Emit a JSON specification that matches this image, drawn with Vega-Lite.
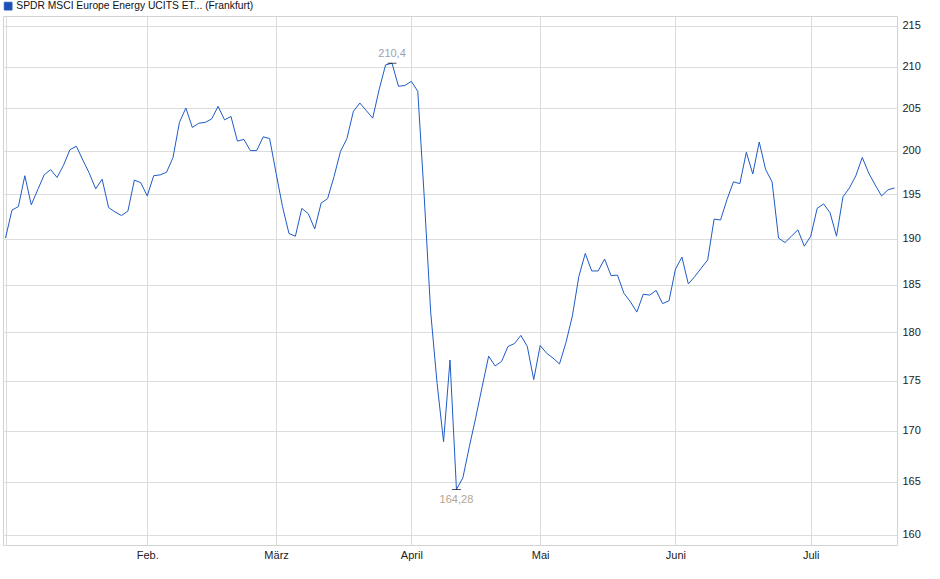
{
  "$schema": "https://vega.github.io/schema/vega-lite/v6.json",
  "width": 894,
  "height": 529,
  "autosize": {"type": "none"},
  "padding": {"left": 3, "top": 16, "right": 43, "bottom": 34},
  "background": "white",
  "config": {
    "font": "Liberation Sans",
    "view": {"stroke": "#d2d2d2", "strokeWidth": 1},
    "axis": {"gridColor": "#dcdcdc", "gridWidth": 1, "ticks": false, "domain": false, "labelFontSize": 11, "labelColor": "#222222", "labelFont": "Liberation Sans"}
  },
  "datasets": {
    "prices": [
      {"d":"2025-01-02","v":190.1},{"d":"2025-01-03","v":193.2},{"d":"2025-01-06","v":193.6},{"d":"2025-01-07","v":197.1},{"d":"2025-01-08","v":193.8},
      {"d":"2025-01-09","v":195.5},{"d":"2025-01-10","v":197.2},{"d":"2025-01-13","v":197.8},{"d":"2025-01-14","v":196.9},{"d":"2025-01-15","v":198.3},
      {"d":"2025-01-16","v":200.1},{"d":"2025-01-17","v":200.5},{"d":"2025-01-20","v":198.9},{"d":"2025-01-21","v":197.4},{"d":"2025-01-22","v":195.6},
      {"d":"2025-01-23","v":196.7},{"d":"2025-01-24","v":193.5},{"d":"2025-01-27","v":193.0},{"d":"2025-01-28","v":192.6},{"d":"2025-01-29","v":193.1},
      {"d":"2025-01-30","v":196.6},{"d":"2025-01-31","v":196.3},{"d":"2025-02-03","v":194.8},{"d":"2025-02-04","v":197.1},{"d":"2025-02-05","v":197.2},
      {"d":"2025-02-06","v":197.5},{"d":"2025-02-07","v":199.2},{"d":"2025-02-10","v":203.3},{"d":"2025-02-11","v":205.0},{"d":"2025-02-12","v":202.7},
      {"d":"2025-02-13","v":203.2},{"d":"2025-02-14","v":203.3},{"d":"2025-02-17","v":203.7},{"d":"2025-02-18","v":205.2},{"d":"2025-02-19","v":203.6},
      {"d":"2025-02-20","v":204.0},{"d":"2025-02-21","v":201.1},{"d":"2025-02-24","v":201.3},{"d":"2025-02-25","v":200.0},{"d":"2025-02-26","v":200.0},
      {"d":"2025-02-27","v":201.6},{"d":"2025-02-28","v":201.4},{"d":"2025-03-03","v":197.4},{"d":"2025-03-04","v":193.6},{"d":"2025-03-05","v":190.6},
      {"d":"2025-03-06","v":190.3},{"d":"2025-03-07","v":193.4},{"d":"2025-03-10","v":192.8},{"d":"2025-03-11","v":191.1},{"d":"2025-03-12","v":194.0},
      {"d":"2025-03-13","v":194.5},{"d":"2025-03-14","v":197.0},{"d":"2025-03-17","v":199.9},{"d":"2025-03-18","v":201.4},{"d":"2025-03-19","v":204.6},
      {"d":"2025-03-20","v":205.6},{"d":"2025-03-21","v":204.7},{"d":"2025-03-24","v":203.8},{"d":"2025-03-25","v":207.2},{"d":"2025-03-26","v":210.2},
      {"d":"2025-03-27","v":210.4},{"d":"2025-03-28","v":207.6},{"d":"2025-03-31","v":207.7},{"d":"2025-04-01","v":208.2},{"d":"2025-04-02","v":207.0},
      {"d":"2025-04-03","v":194.7},{"d":"2025-04-04","v":182.1},{"d":"2025-04-07","v":174.7},{"d":"2025-04-08","v":168.9},{"d":"2025-04-09","v":177.1},
      {"d":"2025-04-10","v":164.28},{"d":"2025-04-11","v":165.4},{"d":"2025-04-14","v":168.4},{"d":"2025-04-15","v":171.3},{"d":"2025-04-16","v":174.4},
      {"d":"2025-04-17","v":177.5},{"d":"2025-04-22","v":176.5},{"d":"2025-04-23","v":176.95},{"d":"2025-04-24","v":178.5},{"d":"2025-04-25","v":178.8},
      {"d":"2025-04-28","v":179.65},{"d":"2025-04-29","v":178.5},{"d":"2025-04-30","v":175.1},{"d":"2025-05-02","v":178.6},{"d":"2025-05-05","v":177.8},
      {"d":"2025-05-06","v":177.3},{"d":"2025-05-07","v":176.7},{"d":"2025-05-08","v":178.9},{"d":"2025-05-09","v":181.7},{"d":"2025-05-12","v":185.9},
      {"d":"2025-05-13","v":188.4},{"d":"2025-05-14","v":186.5},{"d":"2025-05-15","v":186.5},{"d":"2025-05-16","v":187.8},{"d":"2025-05-19","v":186.0},
      {"d":"2025-05-20","v":186.05},{"d":"2025-05-21","v":184.1},{"d":"2025-05-22","v":183.2},{"d":"2025-05-23","v":182.1},{"d":"2025-05-26","v":184.0},
      {"d":"2025-05-27","v":183.9},{"d":"2025-05-28","v":184.4},{"d":"2025-05-29","v":183.0},{"d":"2025-05-30","v":183.3},{"d":"2025-06-02","v":186.7},
      {"d":"2025-06-03","v":188.0},{"d":"2025-06-04","v":185.1},{"d":"2025-06-05","v":185.9},{"d":"2025-06-06","v":186.8},{"d":"2025-06-09","v":187.7},
      {"d":"2025-06-10","v":192.2},{"d":"2025-06-11","v":192.1},{"d":"2025-06-12","v":194.4},{"d":"2025-06-13","v":196.4},{"d":"2025-06-16","v":196.2},
      {"d":"2025-06-17","v":199.8},{"d":"2025-06-18","v":197.3},{"d":"2025-06-19","v":201.0},{"d":"2025-06-20","v":197.8},{"d":"2025-06-23","v":196.4},
      {"d":"2025-06-24","v":190.1},{"d":"2025-06-25","v":189.6},{"d":"2025-06-26","v":190.3},{"d":"2025-06-27","v":191.0},{"d":"2025-06-30","v":189.2},
      {"d":"2025-07-01","v":190.3},{"d":"2025-07-02","v":193.4},{"d":"2025-07-03","v":193.9},{"d":"2025-07-04","v":192.9},{"d":"2025-07-07","v":190.3},
      {"d":"2025-07-08","v":194.7},{"d":"2025-07-09","v":195.7},{"d":"2025-07-10","v":197.1},{"d":"2025-07-11","v":199.2},{"d":"2025-07-14","v":197.4},
      {"d":"2025-07-15","v":196.05},{"d":"2025-07-16","v":194.8},{"d":"2025-07-17","v":195.5},{"d":"2025-07-18","v":195.7}
    ],
    "extremes": [
      {"d":"2025-03-27","v":210.4,"t":"210,4","k":"max"},
      {"d":"2025-04-10","v":164.28,"t":"164,28","k":"min"}
    ]
  },
  "encoding": {
    "x": {
      "field": "d", "type": "ordinal", "title": null,
      "scale": {"type": "point", "padding": 0.39},
      "axis": {
        "values": ["2025-01-02","2025-02-03","2025-03-03","2025-04-01","2025-05-02","2025-06-02","2025-07-01"],
        "labelExpr": "datum.value == '2025-02-03' ? 'Feb.' : datum.value == '2025-03-03' ? 'März' : datum.value == '2025-04-01' ? 'April' : datum.value == '2025-05-02' ? 'Mai' : datum.value == '2025-06-02' ? 'Juni' : datum.value == '2025-07-01' ? 'Juli' : ''",
        "labelAngle": 0, "labelPadding": 4, "grid": true, "labelOverlap": false
      }
    },
    "y": {
      "field": "v", "type": "quantitative", "title": null,
      "scale": {"type": "log", "domain": [159.07, 216.25], "nice": false},
      "axis": {"orient": "right", "values": [160,165,170,175,180,185,190,195,200,205,210,215], "format": ".0f", "labelPadding": 5, "grid": true}
    }
  },
  "layer": [
    {
      "data": {"name": "prices"},
      "mark": {"type": "line", "strokeWidth": 1, "interpolate": "linear"},
      "encoding": {
        "color": {
          "datum": "SPDR MSCI Europe Energy UCITS ET... (Frankfurt)", "type": "nominal",
          "scale": {"range": ["#1f5bc6"]},
          "legend": {
            "title": null, "orient": "none", "legendX": 0, "legendY": -15, "padding": 0,
            "symbolType": "square", "symbolSize": 60, "labelFontSize": 10.3, "labelColor": "#111111",
            "labelLimit": 0, "labelOffset": 3,
            "encode": {"symbols": {"update": {"fill": {"value": "#1f4fb4"}, "stroke": {"value": "#15295e"}, "strokeWidth": {"value": 1}, "opacity": {"value": 1}}}}
          }
        }
      }
    },
    {
      "data": {"name": "extremes"},
      "mark": {"type": "tick", "orient": "horizontal", "size": 9, "thickness": 1, "color": "#000000"}
    },
    {
      "data": {"name": "extremes"},
      "transform": [{"filter": "datum.k == 'max'"}],
      "mark": {"type": "text", "dy": -9, "fontSize": 11, "color": "#9aa3b4"},
      "encoding": {"text": {"field": "t"}}
    },
    {
      "data": {"name": "extremes"},
      "transform": [{"filter": "datum.k == 'min'"}],
      "mark": {"type": "text", "dy": 11, "fontSize": 11, "color": "#b2a68f"},
      "encoding": {"text": {"field": "t"}}
    }
  ]
}
